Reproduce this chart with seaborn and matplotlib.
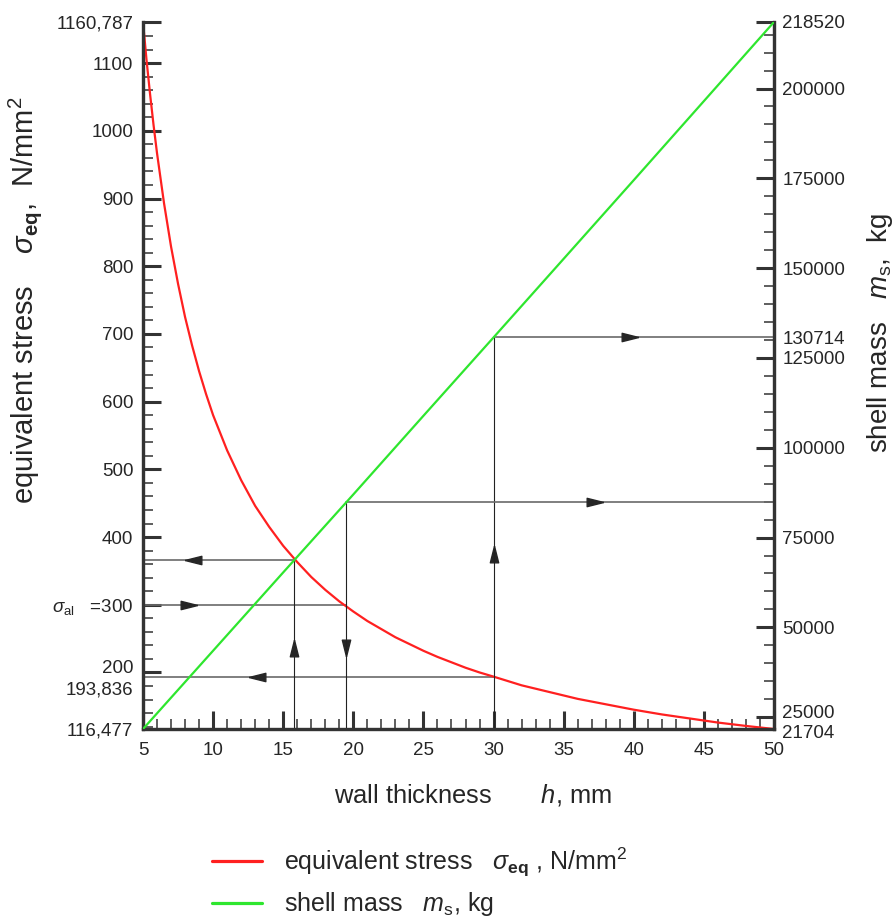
import matplotlib

matplotlib.use("Agg")
import matplotlib.pyplot as plt
import matplotlib.transforms as mtransforms
import numpy as np
import pandas as pd
import seaborn as sns
from matplotlib.ticker import FixedLocator

# values
h_stress = [5, 5.25, 5.5, 5.75, 6, 6.5, 7, 7.5, 8, 8.5, 9, 9.5, 10, 11, 12, 13,
            14, 15, 16, 17, 18, 19, 20, 21, 22, 23, 24, 25, 26, 27, 28, 29, 30,
            32, 34, 36, 38, 40, 42, 44, 46, 48, 50]
stress = [1160.787, 1105, 1055, 1009, 967, 893, 829, 774, 725, 683, 645, 611,
          580, 528, 484, 446, 415, 387, 363, 341, 322, 305, 290, 276, 264, 252,
          242, 232, 223, 215, 207, 200, 193.836, 181, 171, 161, 153, 145, 138,
          132, 126, 121, 116.477]
h_mass = [5, 10, 15, 20, 25, 30, 35, 40, 45, 50]
mass = [21704, 43500, 65300, 87000, 108900, 130714, 152600, 174500, 196500, 218520]

# design read-offs (guide lines)
h_cross, sigma_cross = 15.8, 366
h_allow, sigma_allow, mass_allow = 19.5, 300, 85000
h_chosen, sigma_chosen, mass_chosen = 30, 193.836, 130714

stress_ticks = [116.477, 193.836, 200, 300, 400, 500, 600, 700, 800, 900, 1000, 1100, 1160.787]
stress_labels = ["116,477", "193,836", "200", r"$\sigma_{\mathrm{al}}$   =300", "400", "500",
                 "600", "700", "800", "900", "1000", "1100", "1160,787"]
mass_ticks = [21704, 25000, 50000, 75000, 100000, 125000, 130714, 150000, 175000, 200000, 218520]
mass_labels = ["21704", "25000", "50000", "75000", "100000", "125000", "130714",
               "150000", "175000", "200000", "218520"]

sns.set_style("ticks")
plt.rcParams["font.family"] = ["Liberation Sans", "DejaVu Sans"]
plt.rcParams["mathtext.fontset"] = "custom"
plt.rcParams["mathtext.rm"] = "Liberation Sans"
plt.rcParams["mathtext.it"] = "Liberation Sans:italic"
plt.rcParams["mathtext.bf"] = "Liberation Sans:bold"

RED = "#ff2020"
GREEN = "#2ee62e"
AX_COL = "#333333"
TXT = "#262626"

df_s = pd.DataFrame({"h": h_stress, "stress": stress})
df_m = pd.DataFrame({"h": h_mass, "mass": mass})

fig = plt.figure(figsize=(8.96, 9.22), dpi=100)
ax = fig.add_axes([143 / 896, 1 - 729 / 922, 631 / 896, 707 / 922])
ax2 = ax.twinx()

sns.lineplot(data=df_s, x="h", y="stress", color=RED, lw=1.6, ax=ax, zorder=3)
sns.lineplot(data=df_m, x="h", y="mass", color=GREEN, lw=1.6, ax=ax2, zorder=3)

ax.set_xlim(5, 50)
ax.set_ylim(stress[-1], stress[0])
ax2.set_ylim(mass[0], mass[-1])
for a in (ax, ax2):
    a.set_xlabel("")
    a.set_ylabel("")
    a.spines["top"].set_visible(False)
    for s in ("left", "right", "bottom"):
        a.spines[s].set_linewidth(2.3)
        a.spines[s].set_color(AX_COL)
        a.spines[s].set_visible(True)

# guide lines
hcol, vcol = "#6a6a6a", "#222222"
ax.plot([5, h_cross], [sigma_cross] * 2, color=hcol, lw=1.2, zorder=2)
ax.plot([5, h_allow], [sigma_allow] * 2, color=hcol, lw=1.2, zorder=2)
ax.plot([5, h_chosen], [sigma_chosen] * 2, color=hcol, lw=1.2, zorder=2)
ax.plot([h_cross] * 2, [stress[-1], sigma_cross], color=vcol, lw=0.8, zorder=2)
ax2.plot([h_allow] * 2, [mass[0], mass_allow], color=vcol, lw=0.8, zorder=2)
ax2.plot([h_chosen] * 2, [mass[0], mass_chosen], color=vcol, lw=0.8, zorder=2)
ax2.plot([h_allow, 50], [mass_allow] * 2, color=hcol, lw=1.2, zorder=2)
ax2.plot([h_chosen, 50], [mass_chosen] * 2, color=hcol, lw=1.2, zorder=2)

right = [(1, 0), (-1, 0.5), (-1, -0.5), (1, 0)]
left = [(-x, y) for x, y in right]
up = [(y, x) for x, y in right]
down = [(y, -x) for x, y in right]
akw = dict(color="#262626", markersize=12, ls="none", zorder=4)
ax.plot(8.6, sigma_cross, marker=left, **akw)
ax.plot(8.3, sigma_allow, marker=right, **akw)
ax.plot(13.1, sigma_chosen, marker=left, **akw)
ax.plot(h_cross, 236, marker=up, **akw)
ax.plot(h_allow, 236, marker=down, **akw)
ax.plot(h_chosen, 375, marker=up, **akw)
ax2.plot(39.7, mass_chosen, marker=right, **akw)
ax2.plot(37.2, mass_allow, marker=right, **akw)

# ticks
tk = dict(direction="in", color=AX_COL, labelsize=13.5, labelcolor=TXT)
ax.set_xticks(np.arange(5, 51, 5))
ax.xaxis.set_minor_locator(FixedLocator(np.arange(5, 51, 1)))
ax.tick_params(axis="x", which="major", length=13, width=2.2, pad=9, **tk)
ax.tick_params(axis="x", which="minor", length=7, width=1.1, color=AX_COL, direction="in")
ax.yaxis.set_major_locator(FixedLocator(stress_ticks))
ax.set_yticklabels(stress_labels)
ax.yaxis.set_minor_locator(FixedLocator(np.arange(120, 1160, 20)))
ax.tick_params(axis="y", which="major", length=13, width=2.2, pad=7, **tk)
ax.tick_params(axis="y", which="minor", length=7, width=1.1, color=AX_COL, direction="in")
ax2.yaxis.set_major_locator(FixedLocator(mass_ticks))
ax2.set_yticklabels(mass_labels)
ax2.yaxis.set_minor_locator(FixedLocator(np.arange(25000, 218520, 5000)))
ax2.tick_params(axis="y", which="major", length=13, width=2.2, pad=6, **tk)
ax2.tick_params(axis="y", which="minor", length=7, width=1.1, color=AX_COL, direction="in")
ax2.tick_params(axis="x", which="both", bottom=False, top=False, labelbottom=False)

for t in ax.yaxis.get_major_ticks():
    if t.get_loc() in (116.477, 193.836):
        t.tick1line.set_visible(False)
for t in ax2.yaxis.get_major_ticks():
    if t.get_loc() in (21704, 130714):
        t.tick2line.set_visible(False)


def shift(label, dy):
    label.set_transform(label.get_transform()
                        + mtransforms.ScaledTranslation(0, dy / 72, fig.dpi_scale_trans))


yl = ax.get_yticklabels()
shift(yl[2], 4)
shift(yl[1], -8)
yl2 = ax2.get_yticklabels()
shift(yl2[1], 4)
shift(yl2[0], -2)

# axis titles
fig.text(25 / 896, 1 - 300 / 922,
         r"equivalent stress    $\sigma_{\mathbf{eq}}$,  N/mm$^2$",
         rotation=90, ha="center", va="center", fontsize=21, color=TXT)
fig.text(880 / 896, 1 - 333 / 922, r"shell mass   $m_{\mathrm{s}}$,  kg",
         rotation=90, ha="center", va="center", fontsize=20, color=TXT)
fig.text(473 / 896, 1 - 795 / 922, r"wall thickness       $h$, mm",
         ha="center", va="center", fontsize=18.4, color=TXT)

handles = [ax.lines[0], ax2.lines[0]]
leg = fig.legend(handles=handles,
                 labels=[r"equivalent stress   $\sigma_{\mathbf{eq}}$ , N/mm$^2$",
                         r"shell mass   $m_{\mathrm{s}}$, kg"],
                 loc="upper left", bbox_to_anchor=(212 / 896, 1 - 846 / 922),
                 frameon=False, fontsize=18, handlelength=2.0, handletextpad=0.9,
                 borderpad=0, borderaxespad=0, labelspacing=0.45, labelcolor=TXT)
for ln in leg.get_lines():
    ln.set_linewidth(2.3)

fig.savefig("out.png", dpi=100)
